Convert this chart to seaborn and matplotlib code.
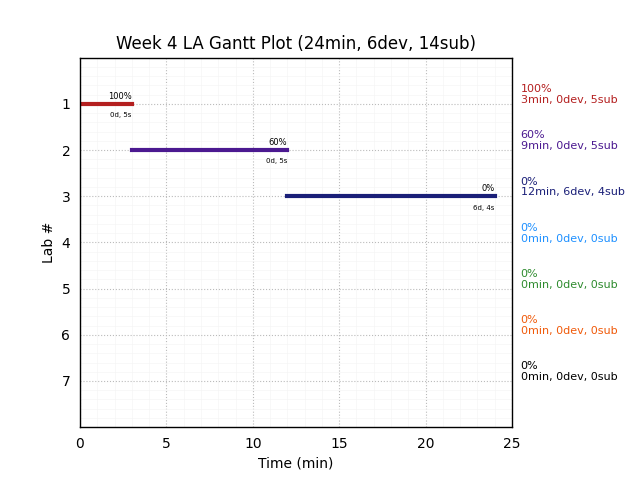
import matplotlib
matplotlib.use("Agg")
import matplotlib.pyplot as plt
import matplotlib.transforms as mtransforms
from matplotlib.ticker import MultipleLocator
import seaborn as sns
import pandas as pd

# lab data
labs = [1, 2, 3, 4, 5, 6, 7]
start_min = [0, 3, 12, 0, 0, 0, 0]
end_min = [3, 12, 24, 0, 0, 0, 0]
minutes = [3, 9, 12, 0, 0, 0, 0]
devs = [0, 0, 6, 0, 0, 0, 0]
subs = [5, 5, 4, 0, 0, 0, 0]
pct = [100, 60, 0, 0, 0, 0, 0]
bar_notes = ["0d, 5s", "0d, 5s", "6d, 4s", "", "", "", ""]
colors = ["#b41f1f", "#4b1990", "#1a1f78", "#1e90ff", "#2e8b2e", "#f05a0a", "#000000"]

# long form: one row per bar end
rows = []
for lab, s, e in zip(labs, start_min, end_min):
    if e > s:
        rows.append({"lab": lab, "time": s})
        rows.append({"lab": lab, "time": e})
df = pd.DataFrame(rows)

sns.set_style("white", rc={"text.color": "black", "axes.labelcolor": "black",
                           "xtick.color": "black", "ytick.color": "black",
                           "axes.edgecolor": "black"})
fig, ax = plt.subplots(figsize=(6.4, 4.8), dpi=100)
fig.subplots_adjust(left=0.125, right=0.8, top=0.88, bottom=0.11)

palette = {lab: c for lab, c in zip(labs, colors)}
sns.lineplot(data=df, x="time", y="lab", hue="lab", palette=palette,
             estimator=None, sort=False, lw=3, legend=False, ax=ax,
             solid_capstyle="projecting")

# percent above and days/subs below the end of each bar
for lab, e, p, note in zip(labs, end_min, pct, bar_notes):
    if e > 0:
        ax.text(e, lab - 0.06, f"{p}%", fontsize=6, ha="right", va="bottom")
        ax.text(e, lab + 0.18, note, fontsize=5, ha="right", va="top")

# summary text on the right side
trans = mtransforms.blended_transform_factory(ax.transAxes, ax.transData)
for lab, p, m, d, s, c in zip(labs, pct, minutes, devs, subs, colors):
    ax.text(1.02, lab - 0.2, f"{p}%\n{m}min, {d}dev, {s}sub", color=c,
            fontsize=8, ha="left", va="center", transform=trans,
            linespacing=1.1)

ax.set_xlim(0, 25)
ax.set_ylim(8, 0)
ax.set_yticks(labs)
ax.xaxis.set_major_locator(MultipleLocator(5))
ax.xaxis.set_minor_locator(MultipleLocator(1))
ax.yaxis.set_minor_locator(MultipleLocator(0.2))
ax.grid(which="major", color="#bbbbbb", linestyle=":", linewidth=0.8)
ax.grid(which="minor", color="#f5f5f5", linestyle="-", linewidth=0.5)
ax.tick_params(which="both", length=0)
ax.tick_params(which="major", pad=7, labelsize=10)
for sp in ax.spines.values():
    sp.set_color("black")
    sp.set_linewidth(1)

ax.set_title("Week 4 LA Gantt Plot (24min, 6dev, 14sub)", fontsize=12)
ax.set_xlabel("Time (min)")
ax.set_ylabel("Lab #")

fig.savefig("out.png", dpi=100)
